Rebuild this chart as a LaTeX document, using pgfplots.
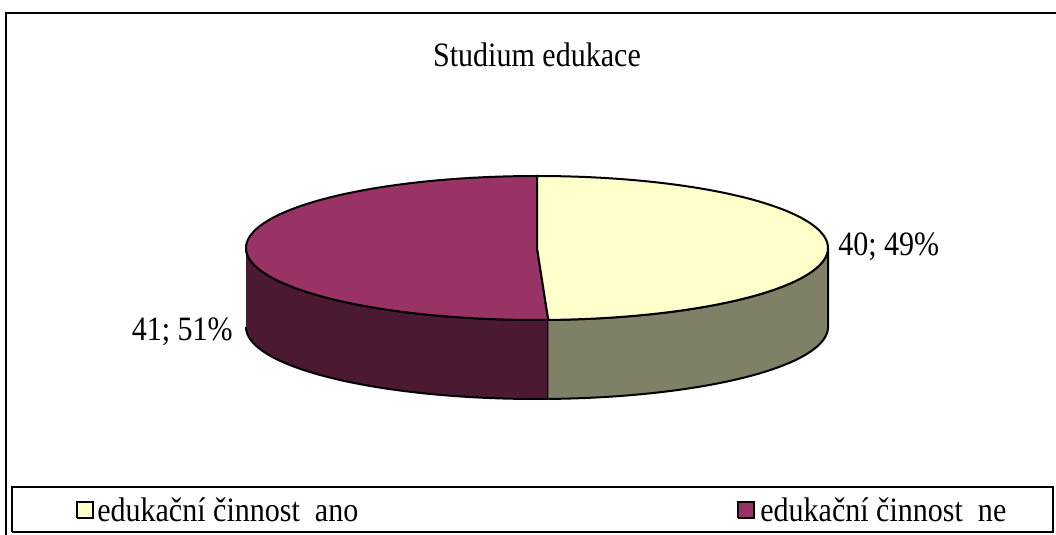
\documentclass[border=0pt]{standalone}
\usepackage{pgfplots}
\pgfplotsset{compat=1.18}
\usepackage{fontspec}
\setmainfont{Liberation Serif}[FakeStretch=0.88]
\definecolor{anoTop}{HTML}{FFFFCC}
\definecolor{anoSide}{HTML}{808066}
\definecolor{neTop}{HTML}{993366}
\definecolor{neSide}{HTML}{4C1933}
% data
\def\valAno{40}
\def\valNe{41}
\pgfmathsetmacro\splitang{90-360*\valAno/(\valAno+\valNe)}
\pgfmathsetmacro\endNe{\splitang+360}
\newcommand\fs{\fontsize{25.6}{30}\selectfont}
\begin{document}
\begin{tikzpicture}
\begin{axis}[
  width=792pt, height=401.25pt, scale only axis, hide axis,
  xmin=0, xmax=1056, ymin=0, ymax=535, clip=true,
  declare function={
    sang(\t,\a,\b)=(\t<1) ? (\a+\t*(\b-\a)) : ((\t<2) ? \b : (\b-(\t-2)*(\b-\a)));
    soff(\t)=(\t<1) ? 0 : ((\t<2) ? ((1-\t)*79) : (-79));
    cang(\t,\a,\b)=(\t<1) ? (\a+\t*(\b-\a)) : ((\t<2) ? \b : \a);
    crad(\t)=(\t<1) ? 1 : ((\t<2) ? (2-\t) : (\t-2));
  },
]
% outer frame
\addplot[black, line width=1.4pt] coordinates {(6,-10) (6,522) (1080,522)};
% legend box
\addplot[black, line width=0.8pt] coordinates {(12,3) (12,48) (1053,48) (1053,3) (12,3)};
% sides
\addplot[fill=neSide, draw=black, line width=1.5pt, line join=round, variable=\t, domain=0:3, samples=301]
  ({537+291*cos(sang(\t,180,\endNe))}, {287+72*sin(sang(\t,180,\endNe))+soff(\t)});
\addplot[fill=anoSide, draw=black, line width=1.5pt, line join=round, variable=\t, domain=0:3, samples=301]
  ({537+291*cos(sang(\t,\endNe,360))}, {287+72*sin(sang(\t,\endNe,360))+soff(\t)});
% tops
\addplot[fill=neTop, draw=black, line width=1.5pt, line join=round, variable=\t, domain=0:3, samples=301]
  ({537+291*crad(\t)*cos(cang(\t,90,\endNe))}, {287+72*crad(\t)*sin(cang(\t,90,\endNe))});
\addplot[fill=anoTop, draw=black, line width=1.5pt, line join=round, variable=\t, domain=0:3, samples=301]
  ({537+291*crad(\t)*cos(cang(\t,\splitang,90))}, {287+72*crad(\t)*sin(cang(\t,\splitang,90))});
% legend keys
\addplot[fill=anoTop, draw=black, line width=1pt] coordinates {(77,17) (77,33) (93,33) (93,17) (77,17)};
\addplot[fill=neTop, draw=black, line width=1pt] coordinates {(738,17) (738,33) (754,33) (754,17) (738,17)};
% texts
\node[font=\fs, inner sep=0pt] at (axis cs:537,480) {Studium edukace};
\node[font=\fs, inner sep=0pt, anchor=west] at (axis cs:838,288) {\valAno; 49\%};
\node[font=\fs, inner sep=0pt, anchor=east] at (axis cs:233,203) {\valNe; 51\%};
\node[font=\fs, inner sep=0pt, anchor=west] at (axis cs:97,25) {edukační činnost\ \ ano};
\node[font=\fs, inner sep=0pt, anchor=west] at (axis cs:760,25) {edukační činnost\ \ ne};
\end{axis}
\pgfresetboundingbox
\path[use as bounding box] (0,0) rectangle (792pt,401.25pt);
\end{tikzpicture}
\end{document}
